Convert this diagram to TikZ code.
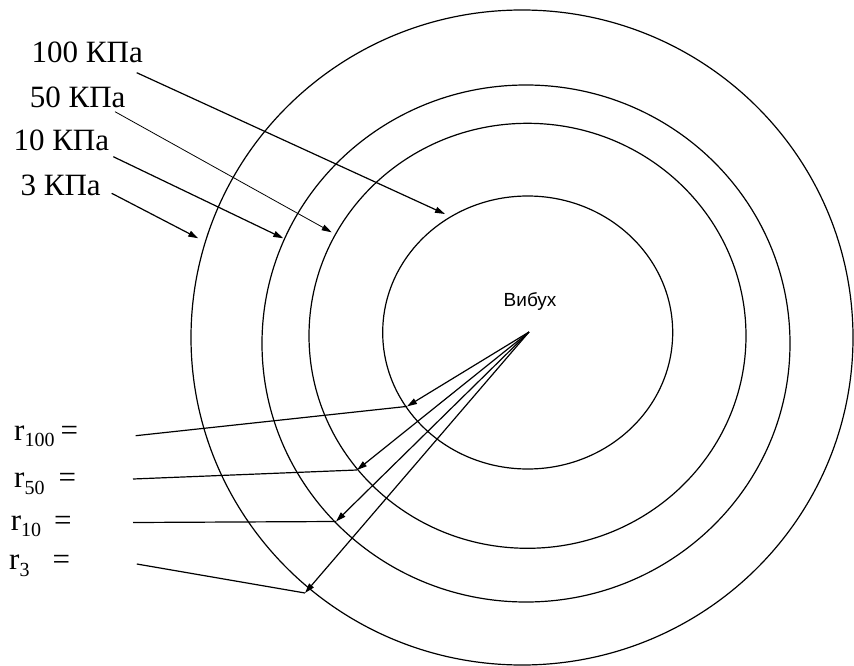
\documentclass[tikz,border=0pt]{standalone}
\usepackage{fontspec}
\setmainfont{Liberation Serif}
\newfontfamily\blastfont{Liberation Sans}
\usetikzlibrary{arrows.meta}
\newcommand{\rsub}[1]{\raisebox{-6.5pt}{\fontsize{20}{24}\selectfont #1}}
\tikzset{
  ring/.style={draw=black, line width=1.2pt},
  pressure label/.style={
    anchor=base west, inner sep=0pt,
    font=\fontsize{31}{36}\selectfont
  },
  radius label/.style={
    anchor=base west, inner sep=0pt,
    font=\fontsize{31}{36}\selectfont
  },
  blast label/.style={
    anchor=base west, inner sep=0pt,
    font=\blastfont\fontsize{19}{22}\selectfont
  },
  wave arrow/.style={-{Triangle[length=10pt,width=6pt]}, line width=1.2pt},
  radius line/.style={line width=1.2pt}
}
\begin{document}
\begin{tikzpicture}[x=1pt, y=-1pt]
    \useasboundingbox (0,0) rectangle (854,666);
    \draw[ring] (522,337.5) ellipse [x radius=331, y radius=327.5];
    \draw[ring] (526,343.5) ellipse [x radius=264, y radius=258.5];
    \draw[ring] (527.5,335.8) ellipse [x radius=218.5, y radius=212.5];
    \draw[ring] (527.7,332.5) ellipse [x radius=145, y radius=136.5];

    \node[pressure label] (p100) at (31.5,62.3) {100 КПа};
    \node[pressure label] (p50) at (29.7,107.3) {50 КПа};
    \node[pressure label] (p10) at (13.3,150) {10 КПа};
    \node[pressure label] (p3) at (20.4,195) {3 КПа};

    \coordinate (s100) at (136.7,72.7);
    \coordinate (s50) at (115,111.7);
    \coordinate (s10) at (113.3,156.7);
    \coordinate (s3) at (111.7,193.3);
    \coordinate (z100) at (445,214);
    \coordinate (z50) at (331.7,232.3);
    \coordinate (z10) at (283.3,238.3);
    \coordinate (z3) at (198.3,238.3);
    \draw[wave arrow] (s100) -- (z100);
    \draw[wave arrow, line width=0.8pt] (s50) -- (z50);
    \draw[wave arrow] (s10) -- (z10);
    \draw[wave arrow] (s3) -- (z3);

    \node[blast label] (vybukh) at (503.5,306) {Вибух};
    \coordinate (blast) at (529,332);

    \node[radius label] (r100) at (14,440) {r\rsub{100}\kern6pt=};
    \node[radius label] (r50) at (14,487.5) {r\rsub{50}\kern14pt=};
    \node[radius label] (r10) at (10.7,530) {r\rsub{10}\kern13pt=};
    \node[radius label] (r3) at (9,569.6) {r\rsub{3}\kern23pt=};

    \coordinate (q100) at (135.7,435.7);
    \coordinate (q50) at (133,479);
    \coordinate (q10) at (133,522.5);
    \coordinate (q3) at (136.8,564);
    \coordinate (e100) at (407,406.4);
    \coordinate (e50) at (357,470);
    \coordinate (e10) at (336,521.5);
    \coordinate (e3) at (305,593);
    \foreach \k in {100,50,10,3} {
      \draw[radius line] (q\k) -- (e\k);
      \draw[wave arrow] (blast) -- (e\k);
    }
  \end{tikzpicture}
\end{document}
